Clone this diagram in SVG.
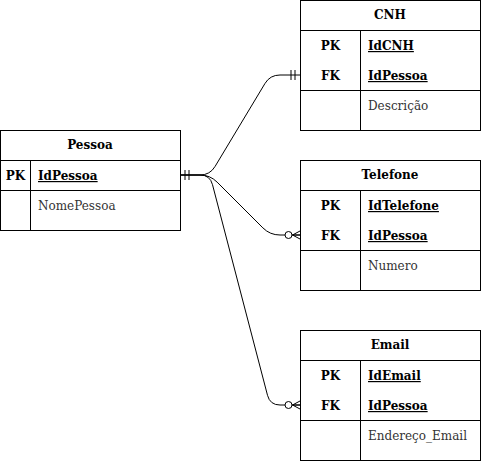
<svg xmlns="http://www.w3.org/2000/svg" width="481" height="461" viewBox="0 0 481 461">
<style>
.box{fill:#fff;stroke:#000;stroke-width:1}
.ln{fill:none;stroke:#000;stroke-width:1}
.t{font-family:"DejaVu Serif",serif;font-size:12px;fill:#000}
.b{font-weight:bold}
.c{text-anchor:middle}
.k{font-weight:bold;text-decoration:underline}
.a{fill:#333}
</style>
<rect width="481" height="461" fill="#fff"/>
<g id="connectors">
  <path class="ln" d="M180,175 L200,175 Q210,175 215.1,166.4 L264.9,83.6 Q270,75 280,75 L300,75"/>
  <path class="ln" d="M185,170 V180 M189,170 V180 M291,70 V80 M295,70 V80"/>
  <path class="ln" d="M180,175 L200,175 Q210,175 217.1,182.1 L262.9,227.9 Q270,235 280,235 L300,235"/>
  <path class="ln" d="M300,231 L292.5,235 L300,239 M292.5,235 H300"/>
  <circle cx="288.5" cy="235" r="3.5" fill="#fff" stroke="#000"/>
  <path class="ln" d="M180,175 L200,175 Q210,175 212.5,184.7 L267.5,395.3 Q270,405 280,405 L300,405"/>
  <path class="ln" d="M300,401 L292.5,405 L300,409 M292.5,405 H300"/>
  <circle cx="288.5" cy="405" r="3.5" fill="#fff" stroke="#000"/>
</g>
<g id="pessoa">
  <rect class="box" x="0.5" y="130.5" width="180" height="100"/>
  <path class="ln" d="M0.5,160.5 H180.5 M0.5,190.5 H180.5 M30.5,160.5 V230.5"/>
  <text class="t b c" x="90" y="149">Pessoa</text>
  <text class="t b c" x="15.5" y="180">PK</text>
  <text class="t k" x="38" y="180">IdPessoa</text>
  <text class="t a" x="38" y="210">NomePessoa</text>
</g>
<g id="cnh">
  <rect class="box" x="300.5" y="0.5" width="180" height="130"/>
  <path class="ln" d="M300.5,30.5 H480.5 M300.5,90.5 H480.5 M360.5,30.5 V130.5"/>
  <text class="t b c" x="390" y="19">CNH</text>
  <text class="t b c" x="330.5" y="50">PK</text>
  <text class="t k" x="368" y="50">IdCNH</text>
  <text class="t b c" x="330.5" y="80">FK</text>
  <text class="t k" x="368" y="80">IdPessoa</text>
  <text class="t a" x="368" y="110">Descrição</text>
</g>
<g id="telefone">
  <rect class="box" x="300.5" y="160.5" width="180" height="130"/>
  <path class="ln" d="M300.5,190.5 H480.5 M300.5,250.5 H480.5 M360.5,190.5 V290.5"/>
  <text class="t b c" x="390" y="179">Telefone</text>
  <text class="t b c" x="330.5" y="210">PK</text>
  <text class="t k" x="368" y="210">IdTelefone</text>
  <text class="t b c" x="330.5" y="240">FK</text>
  <text class="t k" x="368" y="240">IdPessoa</text>
  <text class="t a" x="368" y="270">Numero</text>
</g>
<g id="email">
  <rect class="box" x="300.5" y="330.5" width="180" height="130"/>
  <path class="ln" d="M300.5,360.5 H480.5 M300.5,420.5 H480.5 M360.5,360.5 V460.5"/>
  <text class="t b c" x="390" y="349">Email</text>
  <text class="t b c" x="330.5" y="380">PK</text>
  <text class="t k" x="368" y="380">IdEmail</text>
  <text class="t b c" x="330.5" y="410">FK</text>
  <text class="t k" x="368" y="410">IdPessoa</text>
  <text class="t a" x="368" y="440">Endereço_Email</text>
</g>
</svg>
